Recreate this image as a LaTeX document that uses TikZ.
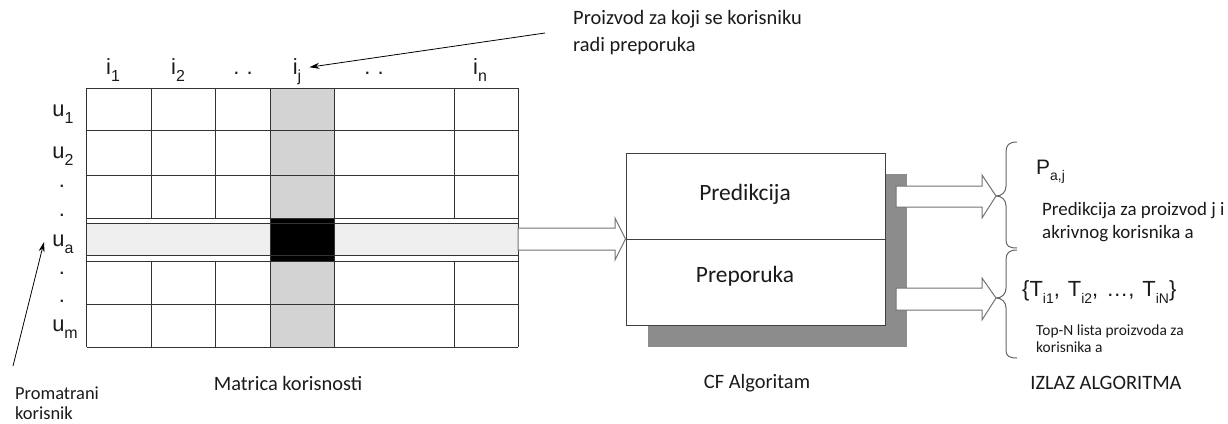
\documentclass[tikz,border=0pt]{standalone}
\usepackage{fontspec}
\usetikzlibrary{arrows.meta}
\setmainfont{Carlito}
\newfontfamily\arialf{Liberation Sans}
\newcommand{\subx}[1]{\raisebox{-0.32em}{\fontsize{16}{16}\selectfont #1}}
\newcommand{\subs}[1]{\raisebox{-0.32em}{\fontsize{14}{14}\selectfont #1}}
\definecolor{colgray}{HTML}{D3D3D3}
\definecolor{bandgray}{HTML}{EFEFEF}
\definecolor{shadowgray}{HTML}{8C8C8C}
\definecolor{txt}{HTML}{1A1A1A}
\begin{document}
\begin{tikzpicture}[x=1bp,y=-1bp,
  lbl/.style={font=\fontsize{20.5}{27}\selectfont, text=txt, inner sep=0, align=left},
  sym/.style={font=\arialf\fontsize{22}{26}\selectfont, text=txt, inner sep=0},
  gl/.style={draw=black!80, line width=1bp},
  blockarrow/.style={draw=black!55, fill=white, line width=1bp, line join=miter},
  ptr/.style={draw=black, line width=0.8bp, -{Stealth[length=10bp,width=6bp]}},
  bracestyle/.style={draw=black!60, line width=1bp}
]
\useasboundingbox (0,0) rectangle (1228,423);

% ---- matrix ----
\fill[colgray] (270,88) rectangle (334,347);
\fill[bandgray] (86.5,223) rectangle (518,255);
\fill[black] (270,218) rectangle (334,261);
\foreach \y in {88,130,175,218,223,255,261,304,347}
  \draw[gl] (86.5,\y) -- (518,\y);
\foreach \x in {151,215,454}{
  \draw[gl] (\x,88) -- (\x,218);
  \draw[gl] (\x,261) -- (\x,347);
}
\foreach \x in {86.5,270,334,518}
  \draw[gl] (\x,88) -- (\x,347);
\node[inner sep=0, minimum width=431.5bp, minimum height=259bp] (mat) at (302.25,217.5) {};

% column labels
\node[sym, anchor=base] (i1) at (113,74) {i\subx{1}};
\node[sym, anchor=base] (i2) at (178,74) {i\subx{2}};
\node[sym, anchor=base] (d1) at (243,74) {.\,\,.};
\node[sym, anchor=base] (ij) at (297,74) {i\subx{j}};
\node[sym, anchor=base] (d2) at (374,74) {.\,\,.};
\node[sym, anchor=base] (in) at (480,74) {i\subx{n}};

% row labels
\node[sym, anchor=base] (u1) at (63,116) {u\subx{1}};
\node[sym, anchor=base] (u2) at (63,158) {u\subx{2}};
\node[sym, anchor=base] (r1) at (62,187) {.};
\node[sym, anchor=base] (r2) at (62,216) {.};
\node[sym, anchor=base] (ua) at (63,246) {u\subx{a}};
\node[sym, anchor=base] (r3) at (62,274) {.};
\node[sym, anchor=base] (r4) at (62,302) {.};
\node[sym, anchor=base] (um) at (65,331) {u\subx{m}};

% ---- CF algorithm box ----
\fill[shadowgray] (648,174) rectangle (907,347);
\node[draw=black!75, fill=white, line width=1bp, inner sep=0,
      minimum width=259bp, minimum height=172bp] (cf) at (755.5,239) {};
\draw[draw=black!75, line width=1bp] (cf.west) -- (cf.east);
\node[font=\fontsize{23.5}{26}\selectfont, text=txt, inner sep=0] (pred) at (745,194) {Predikcija};
\node[font=\fontsize{23.5}{26}\selectfont, text=txt, inner sep=0] (prep) at (745,276) {Preporuka};

% input block arrow
\draw[blockarrow] (518,228) -- (615,228) -- (615,218) -- (cf.west) -- (615,260) -- (615,250) -- (518,250) -- cycle;

% output braces
\coordinate (b1) at (996,196);
\coordinate (b2) at (996,298);
\draw[bracestyle] (1017,142) .. controls (1009,142) and (1006,145) .. (1006,152)
   -- (1006,186) .. controls (1006,192) and (1002,196) .. (b1)
   .. controls (1002,196) and (1006,200) .. (1006,206)
   -- (1006,240) .. controls (1006,246) and (1009,248) .. (1017,248);
\draw[bracestyle] (1017,250) .. controls (1009,250) and (1006,253) .. (1006,260)
   -- (1006,288) .. controls (1006,294) and (1002,298) .. (b2)
   .. controls (1002,298) and (1006,302) .. (1006,308)
   -- (1006,350) .. controls (1006,356) and (1009,358) .. (1017,358);

% output block arrows
\draw[blockarrow] (896,186) -- (982,186) -- (982,175) -- (b1) -- (982,218) -- (982,207) -- (896,207) -- cycle;
\draw[blockarrow] (896,288) -- (982,288) -- (982,278) -- (b2) -- (982,320) -- (982,310) -- (896,310) -- cycle;

% output texts
\node[font=\arialf\fontsize{21}{26}\selectfont, text=txt, inner sep=0, anchor=base west] (paj) at (1036,174) {P\subs{a,j}};
\node[font=\fontsize{19}{23.3}\selectfont, text=txt, inner sep=0, align=left, anchor=base west] (pdesc) at (1042,238.3)
  {Predikcija za proizvod j i\\akrivnog korisnika a};
\node[font=\arialf\fontsize{22}{26}\selectfont, text=txt, inner sep=0, anchor=base west] (tlist) at (1022,296)
  {\{T\subs{i1},\hspace{2bp} T\subs{i2},\hspace{2bp} \ldots,\hspace{2bp} T\subs{iN}\}};
\node[font=\fontsize{15.5}{17}\selectfont, text=txt, inner sep=0, align=left, anchor=base west] (tdesc) at (1036,352)
  {Top-N lista proizvoda za\\korisnika a};

% bottom captions
\node[lbl, anchor=center] (capm) at (288,383) {Matrica korisnosti};
\node[lbl, anchor=center] (capc) at (757,383) {CF Algoritam};
\node[lbl, anchor=center] (capo) at (1106,383) {IZLAZ ALGORITMA};

% annotations
\node[font=\fontsize{18.5}{20}\selectfont, text=txt, inner sep=0, align=left, anchor=base west] (prom) at (15,419) {Promatrani\\korisnik};
\coordinate (promtail) at (13,366);
\draw[ptr] (promtail) -- (44,242);

\node[lbl, anchor=north west] (proiz) at (573,10) {Proizvod za koji se korisniku\\radi preporuka};
\coordinate (proiztail) at (545,33);
\draw[ptr] (proiztail) -- ([xshift=8bp,yshift=4bp]ij.east);
\end{tikzpicture}
\end{document}
